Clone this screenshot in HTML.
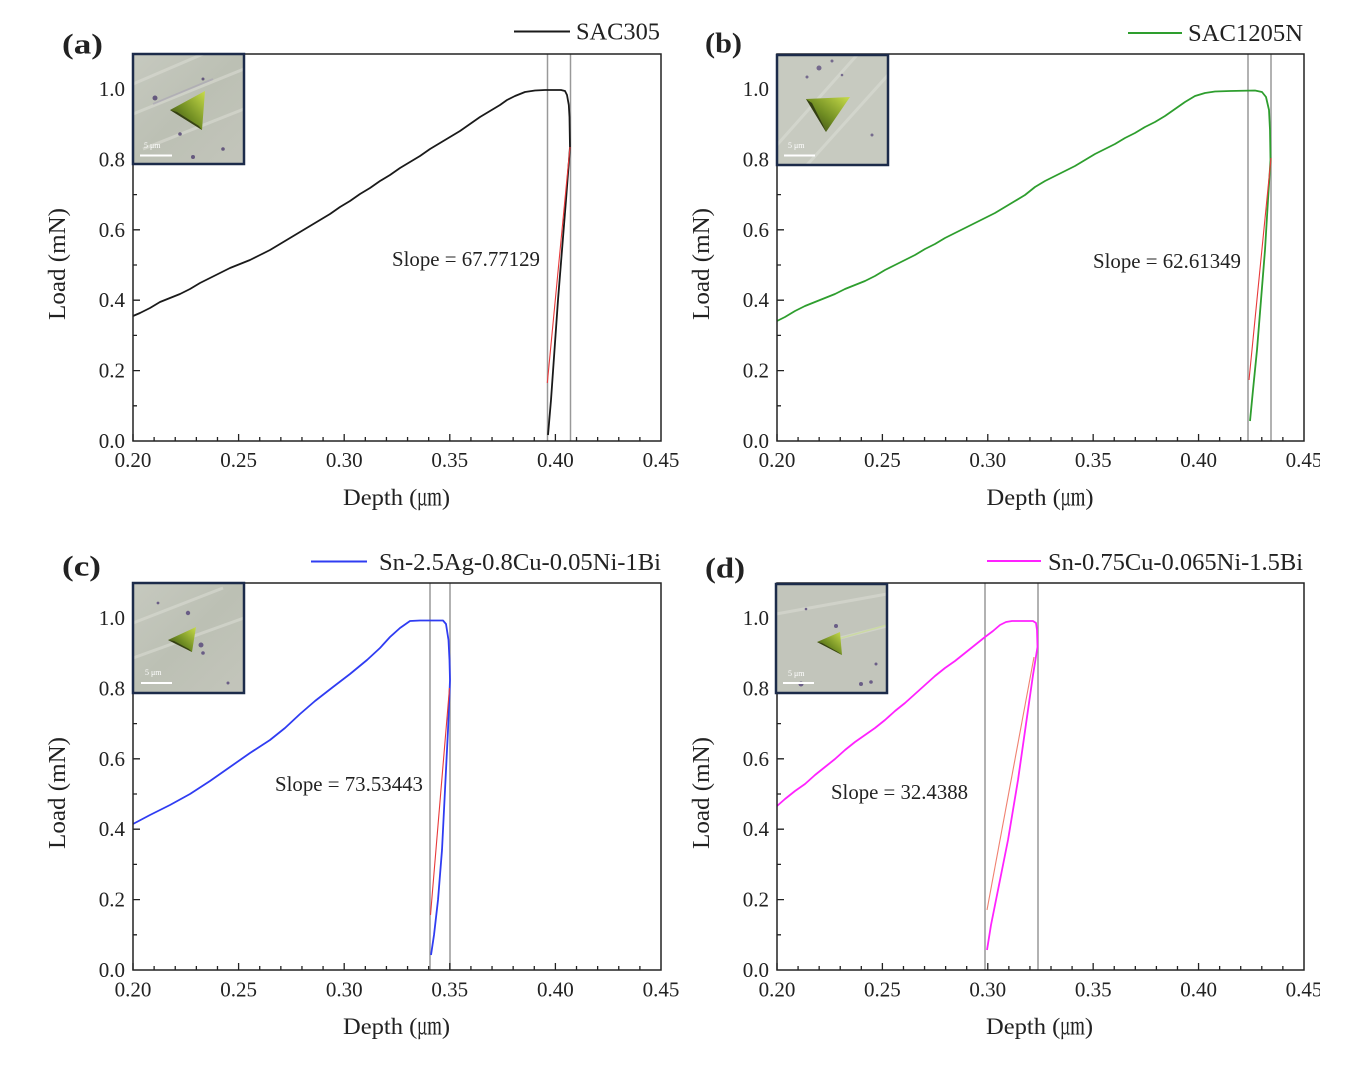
<!DOCTYPE html>
<html><head><meta charset="utf-8"><style>
html,body{margin:0;padding:0;background:#fff;}
svg{display:block;}
text{font-family:"Liberation Serif","Noto Serif CJK SC",serif;fill:#222;}
</style></head><body>
<svg width="1362" height="1070" viewBox="0 0 1362 1070" xmlns="http://www.w3.org/2000/svg">
<defs>
<linearGradient id="tri" x1="0" y1="1" x2="1" y2="0">
<stop offset="0" stop-color="#2f3a14"/><stop offset="0.45" stop-color="#6f8c22"/><stop offset="1" stop-color="#c8dc4a"/>
</linearGradient>
<linearGradient id="bgA" x1="0" y1="0" x2="1" y2="1">
<stop offset="0" stop-color="#c6c9bf"/><stop offset="0.5" stop-color="#bcc0b4"/><stop offset="1" stop-color="#c3c5bb"/>
</linearGradient>
</defs>
<rect width="1362" height="1070" fill="#fff"/>

<!-- ============ PANEL A ============ -->
<g fill="none" stroke="#999" stroke-width="1.5">
<line x1="547.5" y1="54" x2="547.5" y2="441"/><line x1="570.5" y1="54" x2="570.5" y2="441"/>
</g>
<polyline fill="none" stroke="#1a1a1a" stroke-width="1.8" stroke-linejoin="round" points="133,316 140,313 150,308 160,302 170,298 180,294 190,289 200,283 210,278 220,273 230,268 240,264 250,260 260,255 270,250 280,244 290,238 300,232 310,226 320,220 330,214 340,207 350,201 360,194 370,188 380,181 390,175 400,168 410,162 420,156 430,149 440,143 450,137 460,131 470,124 480,117 490,111 500,105 507,100 515,96 525,92 535,90.5 545,90 561,90 565,91 567,95 568.8,105 569.5,117 570,147 566,200 562,250 558,300 554.5,350 551,400 548,435"/>
<line x1="570" y1="147" x2="547.3" y2="383" stroke="#e8393a" stroke-width="1.1"/>
<rect x="133" y="54" width="528" height="387" fill="none" stroke="#222" stroke-width="1.5"/>
<path transform="translate(133,441)" fill="none" stroke="#222" stroke-width="1.3" d="M0 0v-7M21.12 0v-4M42.24 0v-4M63.36 0v-4M84.48 0v-4M105.6 0v-7M126.72 0v-4M147.84 0v-4M168.96 0v-4M190.08 0v-4M211.2 0v-7M232.32 0v-4M253.44 0v-4M274.56 0v-4M295.68 0v-4M316.8 0v-7M337.92 0v-4M359.04 0v-4M380.16 0v-4M401.28 0v-4M422.4 0v-7M443.52 0v-4M464.64 0v-4M485.76 0v-4M506.88 0v-4"/>
<path transform="translate(133,441)" fill="none" stroke="#222" stroke-width="1.3" d="M0 -35.2h4M0 -70.4h7M0 -105.6h4M0 -140.8h7M0 -176h4M0 -211.2h7M0 -246.4h4M0 -281.6h7M0 -316.8h4M0 -352h7"/>
<g font-size="21" text-anchor="middle">
<text x="133" y="467">0.20</text><text x="238.6" y="467">0.25</text><text x="344.2" y="467">0.30</text><text x="449.8" y="467">0.35</text><text x="555.4" y="467">0.40</text><text x="661" y="467">0.45</text>
</g>
<g font-size="21" text-anchor="end">
<text x="125" y="448">0.0</text><text x="125" y="377.6">0.2</text><text x="125" y="307.2">0.4</text><text x="125" y="236.8">0.6</text><text x="125" y="166.4">0.8</text><text x="125" y="96">1.0</text>
</g>
<text x="392" y="266" font-size="21" textLength="148" lengthAdjust="spacingAndGlyphs">Slope = 67.77129</text>
<text x="396.5" y="505" font-size="23" text-anchor="middle" textLength="107" lengthAdjust="spacingAndGlyphs">Depth (㎛)</text>
<text transform="translate(65,264) rotate(-90)" font-size="24" text-anchor="middle" textLength="112" lengthAdjust="spacingAndGlyphs">Load (mN)</text>
<text x="62" y="53.5" font-size="29" font-weight="bold" textLength="41" lengthAdjust="spacingAndGlyphs">(a)</text>
<line x1="514" y1="31.5" x2="570" y2="31.5" stroke="#1a1a1a" stroke-width="2"/>
<text x="576" y="39.5" font-size="24" textLength="84" lengthAdjust="spacingAndGlyphs">SAC305</text>
<!-- inset a -->
<g transform="translate(133,54)">
<rect width="111" height="110" fill="url(#bgA)"/>
<g stroke="#d6d8cf" stroke-width="3" opacity="0.7"><line x1="0" y1="60" x2="111" y2="15"/><line x1="10" y1="95" x2="111" y2="55"/><line x1="0" y1="30" x2="70" y2="0"/></g>
<g stroke="#a9a4b4" stroke-width="2" opacity="0.6"><line x1="20" y1="50" x2="80" y2="25"/></g>
<g fill="#4f3f70" opacity="0.8"><circle cx="22" cy="44" r="2.5"/><circle cx="47" cy="80" r="1.8"/><circle cx="70" cy="25" r="1.5"/><circle cx="90" cy="95" r="1.8"/><circle cx="60" cy="103" r="2"/></g>
<polygon points="37,56 72,37 69,76" fill="url(#tri)"/>
<polygon points="37,56 69,76 66,72 44,58" fill="#2a3210" opacity="0.8"/>
<line x1="7" y1="101.5" x2="39" y2="101.5" stroke="#fff" stroke-width="2"/>
<text x="11" y="94" font-size="8" style="fill:#fff">5 μm</text>
<rect x="0" y="0" width="111" height="110" fill="none" stroke="#1c2b4a" stroke-width="2.5"/>
</g>

<!-- ============ PANEL B ============ -->
<g fill="none" stroke="#999" stroke-width="1.5">
<line x1="1248" y1="54" x2="1248" y2="441"/><line x1="1271" y1="54" x2="1271" y2="441"/>
</g>
<polyline fill="none" stroke="#2e9e2e" stroke-width="1.8" stroke-linejoin="round" points="777,321 785,317 795,311 805,306 815,302 825,298 835,294 845,289 855,285 865,281 875,276 885,270 895,265 905,260 915,255 925,249 935,244 945,238 955,233 965,228 975,223 985,218 995,213 1005,207 1015,201 1025,195 1035,187 1045,181 1055,176 1065,171 1075,166 1085,160 1095,154 1105,149 1115,144 1125,138 1135,133 1145,127 1155,122 1165,116 1175,109 1185,102 1195,96 1205,93 1215,91.5 1230,91 1255,90.5 1262,92 1266,97 1269,110 1270,130 1270.5,160 1268,200 1265,250 1261,300 1257,350 1253,390 1250,421"/>
<line x1="1271" y1="158" x2="1249" y2="380" stroke="#e8393a" stroke-width="1.1"/>
<rect x="777" y="54" width="527" height="387" fill="none" stroke="#222" stroke-width="1.5"/>
<path transform="translate(777,441) scale(0.998,1)" fill="none" stroke="#222" stroke-width="1.3" d="M0 0v-7M21.12 0v-4M42.24 0v-4M63.36 0v-4M84.48 0v-4M105.6 0v-7M126.72 0v-4M147.84 0v-4M168.96 0v-4M190.08 0v-4M211.2 0v-7M232.32 0v-4M253.44 0v-4M274.56 0v-4M295.68 0v-4M316.8 0v-7M337.92 0v-4M359.04 0v-4M380.16 0v-4M401.28 0v-4M422.4 0v-7M443.52 0v-4M464.64 0v-4M485.76 0v-4M506.88 0v-4"/>
<path transform="translate(777,441)" fill="none" stroke="#222" stroke-width="1.3" d="M0 -35.2h4M0 -70.4h7M0 -105.6h4M0 -140.8h7M0 -176h4M0 -211.2h7M0 -246.4h4M0 -281.6h7M0 -316.8h4M0 -352h7"/>
<g font-size="21" text-anchor="middle">
<text x="777" y="467">0.20</text><text x="882.4" y="467">0.25</text><text x="987.8" y="467">0.30</text><text x="1093.2" y="467">0.35</text><text x="1198.6" y="467">0.40</text><text x="1304" y="467">0.45</text>
</g>
<g font-size="21" text-anchor="end">
<text x="769" y="448">0.0</text><text x="769" y="377.6">0.2</text><text x="769" y="307.2">0.4</text><text x="769" y="236.8">0.6</text><text x="769" y="166.4">0.8</text><text x="769" y="96">1.0</text>
</g>
<text x="1093" y="268" font-size="21" textLength="148" lengthAdjust="spacingAndGlyphs">Slope = 62.61349</text>
<text x="1040" y="505" font-size="23" text-anchor="middle" textLength="107" lengthAdjust="spacingAndGlyphs">Depth (㎛)</text>
<text transform="translate(709,264) rotate(-90)" font-size="24" text-anchor="middle" textLength="112" lengthAdjust="spacingAndGlyphs">Load (mN)</text>
<text x="705" y="52.5" font-size="29" font-weight="bold" textLength="37" lengthAdjust="spacingAndGlyphs">(b)</text>
<line x1="1128" y1="33" x2="1182" y2="33" stroke="#2e9e2e" stroke-width="2"/>
<text x="1188" y="41" font-size="24" textLength="115" lengthAdjust="spacingAndGlyphs">SAC1205N</text>
<!-- inset b -->
<g transform="translate(777,55)">
<rect width="111" height="110" fill="#c7cac0"/>
<g stroke="#d8dad2" stroke-width="3" opacity="0.7"><line x1="0" y1="90" x2="80" y2="0"/><line x1="30" y1="110" x2="111" y2="20"/></g>
<g fill="#5a4a7c" opacity="0.75"><circle cx="42" cy="13" r="2.5"/><circle cx="30" cy="22" r="1.5"/><circle cx="55" cy="6" r="1.5"/><circle cx="95" cy="80" r="1.5"/><circle cx="65" cy="20" r="1.3"/></g>
<polygon points="29,44 73,42 49,77" fill="url(#tri)"/>
<polygon points="29,44 49,77 46,70 35,48" fill="#2a3210" opacity="0.85"/>
<line x1="7" y1="100.5" x2="38" y2="100.5" stroke="#fff" stroke-width="2"/>
<text x="11" y="93" font-size="8" style="fill:#fff">5 μm</text>
<rect x="0" y="0" width="111" height="110" fill="none" stroke="#1c2b4a" stroke-width="2.5"/>
</g>

<!-- ============ PANEL C ============ -->
<g fill="none" stroke="#999" stroke-width="1.5">
<line x1="430" y1="583" x2="430" y2="970"/><line x1="450" y1="583" x2="450" y2="970"/>
</g>
<polyline fill="none" stroke="#2f3cf2" stroke-width="1.8" stroke-linejoin="round" points="133,824 150,815 170,805 190,794 210,781 230,767 250,753 270,740 285,728 300,714 315,701 333,687 350,674 367,660 380,648 390,637 400,628 410,621 420,620.5 443,620.5 446,624 448.5,640 449.5,660 450,680 448,730 445,790 442,850 438,900 434,935 431,955"/>
<line x1="449.5" y1="688" x2="430.5" y2="915" stroke="#e8393a" stroke-width="1.1"/>
<rect x="133" y="583" width="528" height="387" fill="none" stroke="#222" stroke-width="1.5"/>
<path transform="translate(133,970)" fill="none" stroke="#222" stroke-width="1.3" d="M0 0v-7M21.12 0v-4M42.24 0v-4M63.36 0v-4M84.48 0v-4M105.6 0v-7M126.72 0v-4M147.84 0v-4M168.96 0v-4M190.08 0v-4M211.2 0v-7M232.32 0v-4M253.44 0v-4M274.56 0v-4M295.68 0v-4M316.8 0v-7M337.92 0v-4M359.04 0v-4M380.16 0v-4M401.28 0v-4M422.4 0v-7M443.52 0v-4M464.64 0v-4M485.76 0v-4M506.88 0v-4"/>
<path transform="translate(133,970)" fill="none" stroke="#222" stroke-width="1.3" d="M0 -35.2h4M0 -70.4h7M0 -105.6h4M0 -140.8h7M0 -176h4M0 -211.2h7M0 -246.4h4M0 -281.6h7M0 -316.8h4M0 -352h7"/>
<g font-size="21" text-anchor="middle">
<text x="133" y="996.5">0.20</text><text x="238.6" y="996.5">0.25</text><text x="344.2" y="996.5">0.30</text><text x="449.8" y="996.5">0.35</text><text x="555.4" y="996.5">0.40</text><text x="661" y="996.5">0.45</text>
</g>
<g font-size="21" text-anchor="end">
<text x="125" y="977">0.0</text><text x="125" y="906.6">0.2</text><text x="125" y="836.2">0.4</text><text x="125" y="765.8">0.6</text><text x="125" y="695.4">0.8</text><text x="125" y="625">1.0</text>
</g>
<text x="275" y="791" font-size="21" textLength="148" lengthAdjust="spacingAndGlyphs">Slope = 73.53443</text>
<text x="396.5" y="1034" font-size="23" text-anchor="middle" textLength="107" lengthAdjust="spacingAndGlyphs">Depth (㎛)</text>
<text transform="translate(65,793) rotate(-90)" font-size="24" text-anchor="middle" textLength="112" lengthAdjust="spacingAndGlyphs">Load (mN)</text>
<text x="62" y="575.5" font-size="29" font-weight="bold" textLength="39" lengthAdjust="spacingAndGlyphs">(c)</text>
<line x1="311" y1="561.5" x2="367" y2="561.5" stroke="#2f3cf2" stroke-width="2"/>
<text x="379" y="570" font-size="24" textLength="282" lengthAdjust="spacingAndGlyphs">Sn-2.5Ag-0.8Cu-0.05Ni-1Bi</text>
<!-- inset c -->
<g transform="translate(133,583)">
<rect width="111" height="110" fill="url(#bgA)"/>
<g stroke="#d6d8cf" stroke-width="3" opacity="0.7"><line x1="0" y1="75" x2="111" y2="35"/><line x1="0" y1="40" x2="90" y2="5"/></g>
<g fill="#55457a" opacity="0.8"><circle cx="55" cy="30" r="2.2"/><circle cx="68" cy="62" r="2.5"/><circle cx="70" cy="70" r="1.8"/><circle cx="25" cy="20" r="1.4"/><circle cx="95" cy="100" r="1.5"/></g>
<polygon points="35,57 63,44 59,69" fill="url(#tri)"/>
<polygon points="35,57 59,69 56,66 41,58" fill="#2a3210" opacity="0.8"/>
<line x1="8" y1="100" x2="39" y2="100" stroke="#fff" stroke-width="2"/>
<text x="12" y="92" font-size="8" style="fill:#fff">5 μm</text>
<rect x="0" y="0" width="111" height="110" fill="none" stroke="#1c2b4a" stroke-width="2.5"/>
</g>

<!-- ============ PANEL D ============ -->
<g fill="none" stroke="#999" stroke-width="1.5">
<line x1="985" y1="583" x2="985" y2="970"/><line x1="1038" y1="583" x2="1038" y2="970"/>
</g>
<polyline fill="none" stroke="#ff22ff" stroke-width="1.8" stroke-linejoin="round" points="777,806 785,799 795,791 805,784 815,775 825,767 835,759 845,750 855,742 865,735 875,728 885,720 895,711 905,703 915,694 925,685 935,676 945,668 955,661 965,653 975,645 985,637 993,631 1000,625 1006,622 1012,621 1033,621 1036,623 1037,630 1037.5,647 1033,675 1028,710 1023,745 1018,780 1013,810 1008,840 1002,870 996,900 991,925 987,950"/>
<line x1="1034" y1="657" x2="987" y2="910" stroke="#f08070" stroke-width="1.1"/>
<rect x="777" y="583" width="527" height="387" fill="none" stroke="#222" stroke-width="1.5"/>
<path transform="translate(777,970) scale(0.998,1)" fill="none" stroke="#222" stroke-width="1.3" d="M0 0v-7M21.12 0v-4M42.24 0v-4M63.36 0v-4M84.48 0v-4M105.6 0v-7M126.72 0v-4M147.84 0v-4M168.96 0v-4M190.08 0v-4M211.2 0v-7M232.32 0v-4M253.44 0v-4M274.56 0v-4M295.68 0v-4M316.8 0v-7M337.92 0v-4M359.04 0v-4M380.16 0v-4M401.28 0v-4M422.4 0v-7M443.52 0v-4M464.64 0v-4M485.76 0v-4M506.88 0v-4"/>
<path transform="translate(777,970)" fill="none" stroke="#222" stroke-width="1.3" d="M0 -35.2h4M0 -70.4h7M0 -105.6h4M0 -140.8h7M0 -176h4M0 -211.2h7M0 -246.4h4M0 -281.6h7M0 -316.8h4M0 -352h7"/>
<g font-size="21" text-anchor="middle">
<text x="777" y="996.5">0.20</text><text x="882.4" y="996.5">0.25</text><text x="987.8" y="996.5">0.30</text><text x="1093.2" y="996.5">0.35</text><text x="1198.6" y="996.5">0.40</text><text x="1304" y="996.5">0.45</text>
</g>
<g font-size="21" text-anchor="end">
<text x="769" y="977">0.0</text><text x="769" y="906.6">0.2</text><text x="769" y="836.2">0.4</text><text x="769" y="765.8">0.6</text><text x="769" y="695.4">0.8</text><text x="769" y="625">1.0</text>
</g>
<text x="831" y="799" font-size="21" textLength="137" lengthAdjust="spacingAndGlyphs">Slope = 32.4388</text>
<text x="1039.5" y="1034" font-size="23" text-anchor="middle" textLength="107" lengthAdjust="spacingAndGlyphs">Depth (㎛)</text>
<text transform="translate(709,793) rotate(-90)" font-size="24" text-anchor="middle" textLength="112" lengthAdjust="spacingAndGlyphs">Load (mN)</text>
<text x="705" y="577.5" font-size="29" font-weight="bold" textLength="40" lengthAdjust="spacingAndGlyphs">(d)</text>
<line x1="987" y1="561" x2="1041" y2="561" stroke="#ff22ff" stroke-width="2"/>
<text x="1048" y="570" font-size="24" textLength="255" lengthAdjust="spacingAndGlyphs">Sn-0.75Cu-0.065Ni-1.5Bi</text>
<!-- inset d -->
<g transform="translate(776,584)">
<rect width="111" height="109" fill="#c2c5bb"/>
<g stroke="#d6d8cf" stroke-width="3" opacity="0.7"><line x1="0" y1="30" x2="111" y2="10"/><line x1="60" y1="55" x2="111" y2="42"/></g>
<g stroke="#c9e08a" stroke-width="1.5" opacity="0.6"><line x1="62" y1="55" x2="111" y2="41"/></g>
<g fill="#55457a" opacity="0.8"><circle cx="60" cy="42" r="2"/><circle cx="25" cy="100" r="2.5"/><circle cx="85" cy="100" r="2"/><circle cx="95" cy="98" r="1.8"/><circle cx="100" cy="80" r="1.5"/><circle cx="30" cy="25" r="1.3"/></g>
<polygon points="41,58 64,48 66,71" fill="url(#tri)"/>
<polygon points="41,58 66,71 62,68 46,59" fill="#2a3210" opacity="0.8"/>
<line x1="7" y1="99" x2="38" y2="99" stroke="#fff" stroke-width="2"/>
<text x="12" y="92" font-size="8" style="fill:#fff">5 μm</text>
<rect x="0" y="0" width="111" height="109" fill="none" stroke="#1c2b4a" stroke-width="2.5"/>
</g>

<!-- right-edge crop -->
<rect x="1320" y="0" width="42" height="1070" fill="#fff"/>
</svg>
</body></html>
